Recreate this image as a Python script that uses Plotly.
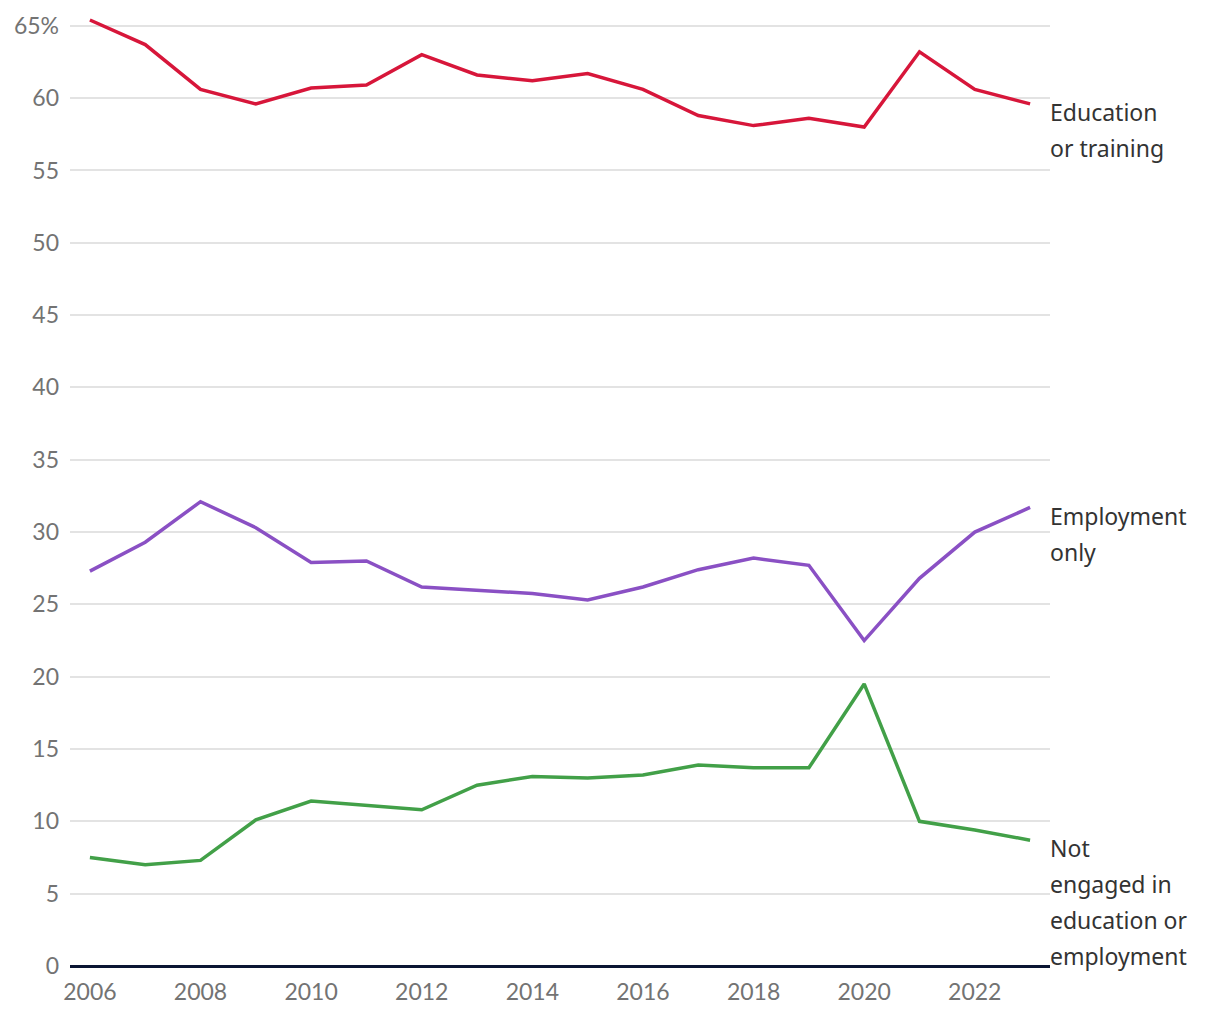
import plotly.graph_objects as go

years = list(range(2006, 2024))
education = [65.4, 63.7, 60.6, 59.6, 60.7, 60.9, 63.0, 61.6, 61.2, 61.7, 60.6, 58.8, 58.1, 58.6, 58.0, 63.2, 60.6, 59.6]
employment = [27.3, 29.3, 32.1, 30.3, 27.9, 28.0, 26.2, 26.0, 25.75, 25.3, 26.2, 27.4, 28.2, 27.7, 22.5, 26.8, 30.0, 31.7]
neet = [7.5, 7.0, 7.3, 10.1, 11.4, 11.1, 10.8, 12.5, 13.1, 13.0, 13.2, 13.9, 13.7, 13.7, 19.5, 10.0, 9.4, 8.7]

series_names = ["Education or training", "Employment only", "Not engaged in education or employment"]
colors = ["#d7163a", "#8a50c4", "#42a048"]
label_lines = [["Education", "or training"], ["Employment", "only"],
               ["Not", "engaged in", "education or", "employment"]]
label_y = [[59.06, 56.56], [31.1, 28.6], [8.15, 5.66, 3.17, 0.67]]

y_ticks = list(range(0, 70, 5))
y_ticktext = [str(v) for v in y_ticks[:-1]] + ["65%"]
x_ticks = list(range(2006, 2023, 2))

fig = go.Figure()
for name, vals, col in zip(series_names, [education, employment, neet], colors):
    fig.add_trace(go.Scatter(x=years, y=vals, mode="lines", name=name,
                             line=dict(color=col, width=3.5), hoverinfo="x+y"))

annots = []
for lines, ys in zip(label_lines, label_y):
    for t, yv in zip(lines, ys):
        annots.append(dict(x=1, xref="paper", y=yv, yref="y", text=t, showarrow=False,
                           xanchor="left", yanchor="middle", xshift=-2,
                           font=dict(family="Noto Sans", size=23, color="#333333")))

fig.update_layout(
    width=1204, height=1004,
    margin=dict(l=62, r=162, t=0, b=46),
    plot_bgcolor="white", paper_bgcolor="white",
    showlegend=False,
    annotations=annots,
    font=dict(family="Lato", size=22, color="#757575"),
    xaxis=dict(range=[2005.64, 2023.36], tickvals=x_ticks, showgrid=False,
               zeroline=False, showline=False, ticks="", ticklabelstandoff=10,
               tickfont=dict(family="Lato", size=23, color="#737373")),
    yaxis=dict(range=[0, 66.23], tickvals=y_ticks, ticktext=y_ticktext,
               showgrid=True, gridcolor="#e3e3e3", gridwidth=1.5,
               zeroline=True, zerolinecolor="#0b1533", zerolinewidth=3,
               showline=False, ticks="", ticklabelstandoff=10,
               tickfont=dict(family="Lato", size=23, color="#737373")),
)

fig.write_html("out.html")
